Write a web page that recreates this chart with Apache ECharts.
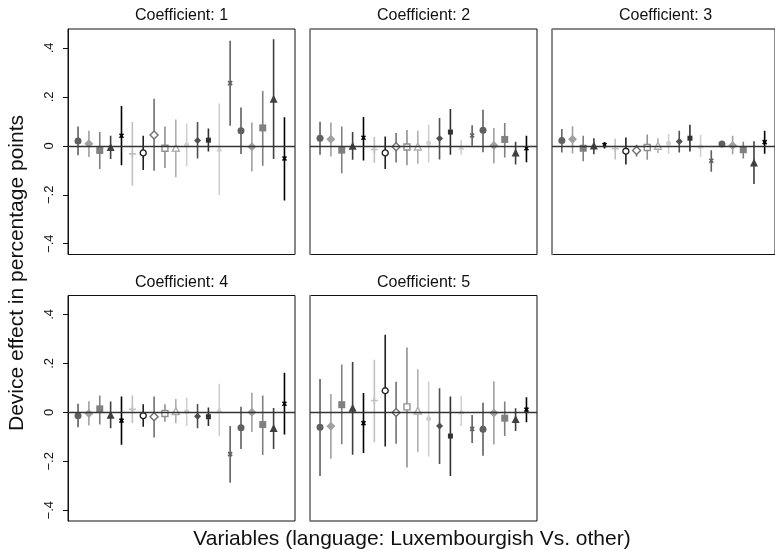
<!DOCTYPE html>
<html>
<head>
<meta charset="utf-8">
<script src="https://cdn.jsdelivr.net/npm/echarts@6/dist/echarts.min.js"></script>
<style>
  html, body { margin: 0; padding: 0; background: #fff; }
  #chart { width: 775px; height: 550px; }
</style>
</head>
<body>
<div id="chart"></div>
<script>
// Position of each variable along the horizontal axis of every panel
const positions = [1, 2, 3, 4, 5, 6, 7, 8, 9, 10, 11, 12, 13, 14, 15, 16, 17, 18, 19, 20];

// Coefficient 1: point estimates and 95% interval bounds
const est1 = [0.020, 0.008, -0.019, -0.005, 0.041, -0.033, -0.029, 0.044, -0.010, -0.008, 0.003, 0.022, 0.023, -0.011, 0.256, 0.061, -0.004, 0.073, 0.192, -0.052];
const lo1  = [-0.039, -0.046, -0.095, -0.054, -0.079, -0.162, -0.099, -0.102, -0.091, -0.128, -0.084, -0.052, -0.023, -0.201, 0.082, -0.034, -0.105, -0.082, -0.054, -0.223];
const hi1  = [0.079, 0.061, 0.056, 0.041, 0.163, 0.097, 0.041, 0.192, 0.079, 0.107, 0.091, 0.097, 0.071, 0.173, 0.429, 0.156, 0.095, 0.224, 0.435, 0.117];

// Coefficient 2
const est2 = [0.031, 0.027, -0.018, 0.000, 0.033, -0.015, -0.029, -0.004, -0.005, -0.003, 0.011, 0.030, 0.056, -0.004, 0.042, 0.063, 0.001, 0.026, -0.027, -0.010];
const lo2  = [-0.037, -0.044, -0.112, -0.057, -0.060, -0.069, -0.095, -0.068, -0.079, -0.073, -0.069, -0.056, -0.037, -0.037, 0.000, -0.026, -0.072, -0.048, -0.076, -0.067];
const hi2  = [0.098, 0.095, 0.079, 0.056, 0.118, 0.037, 0.038, 0.052, 0.065, 0.061, 0.086, 0.114, 0.150, 0.024, 0.084, 0.147, 0.073, 0.093, 0.016, 0.041];

// Coefficient 3
const est3 = [0.022, 0.027, -0.010, 0.001, 0.003, -0.012, -0.022, -0.019, -0.007, 0.000, 0.010, 0.018, 0.031, 0.001, -0.061, 0.007, 0.001, -0.016, -0.068, 0.015];
const lo3  = [-0.027, -0.031, -0.063, -0.035, -0.011, -0.056, -0.076, -0.044, -0.057, -0.029, -0.033, -0.027, -0.023, -0.045, -0.106, -0.005, -0.035, -0.052, -0.156, -0.033];
const hi3  = [0.069, 0.080, 0.041, 0.031, 0.015, 0.029, 0.034, 0.004, 0.046, 0.031, 0.048, 0.061, 0.086, 0.045, -0.018, 0.018, 0.041, 0.016, 0.019, 0.061];

// Coefficient 4
const est4 = [-0.014, -0.005, 0.014, -0.010, -0.034, 0.012, -0.014, -0.018, -0.005, 0.005, 0.003, -0.016, -0.018, 0.011, -0.171, -0.063, 0.000, -0.050, -0.064, 0.035];
const lo4  = [-0.061, -0.054, -0.050, -0.065, -0.133, -0.044, -0.059, -0.103, -0.039, -0.045, -0.056, -0.065, -0.056, -0.098, -0.288, -0.150, -0.080, -0.174, -0.150, -0.091];
const hi4  = [0.035, 0.045, 0.069, 0.044, 0.064, 0.069, 0.033, 0.064, 0.033, 0.054, 0.059, 0.034, 0.020, 0.117, -0.056, 0.023, 0.080, 0.069, 0.018, 0.161];

// Coefficient 5
const est5 = [-0.061, -0.057, 0.031, 0.019, -0.044, 0.048, 0.088, -0.001, 0.022, 0.007, -0.026, -0.056, -0.097, 0.004, -0.068, -0.069, -0.003, -0.024, -0.027, 0.011];
const lo5  = [-0.260, -0.190, -0.131, -0.173, -0.166, -0.122, -0.140, -0.129, -0.226, -0.163, -0.181, -0.211, -0.260, -0.056, -0.125, -0.178, -0.132, -0.097, -0.076, -0.041];
const hi5  = [0.136, 0.075, 0.195, 0.205, 0.079, 0.215, 0.317, 0.125, 0.265, 0.176, 0.127, 0.098, 0.064, 0.068, -0.011, 0.039, 0.127, 0.044, 0.016, 0.061];

// Panel titles and y tick labels
const panelTitles = ['Coefficient: 1', 'Coefficient: 2', 'Coefficient: 3', 'Coefficient: 4', 'Coefficient: 5'];
const yTickValues = [-0.4, -0.2, 0, 0.2, 0.4];
const yTickLabels = ['\u2212.4', '\u2212.2', '0', '.2', '.4'];
const yTitle = 'Device effect in percentage points';
const xTitle = 'Variables (language: Luxembourgish Vs. other)';

// Monochrome marker styles, one per variable (cycle of 15 then repeat)
const X_PATH = 'path://M0,0L10,10M10,0L0,10';
const PLUS_PATH = 'path://M5,0L5,10M0,5L10,5';
const baseStyles = [
  { symbol: 'circle',   size: 7, color: '#606060', kind: 'fill' },
  { symbol: 'diamond',  size: 9, color: '#a0a0a0', kind: 'fill' },
  { symbol: 'rect',     size: 7, color: '#808080', kind: 'fill' },
  { symbol: 'triangle', size: 8, color: '#404040', kind: 'fill' },
  { symbol: X_PATH,     size: 4, color: '#000000', kind: 'stroke' },
  { symbol: PLUS_PATH,  size: 7, color: '#c0c0c0', kind: 'stroke' },
  { symbol: 'circle',   size: 6, color: '#202020', kind: 'hollow' },
  { symbol: 'diamond',  size: 8, color: '#707070', kind: 'hollow' },
  { symbol: 'rect',     size: 6, color: '#909090', kind: 'hollow' },
  { symbol: 'triangle', size: 7, color: '#b0b0b0', kind: 'hollow' },
  { symbol: 'circle',   size: 5, color: '#d0d0d0', kind: 'fill' },
  { symbol: 'diamond',  size: 7, color: '#505050', kind: 'fill' },
  { symbol: 'rect',     size: 5, color: '#303030', kind: 'fill' },
  { symbol: 'triangle', size: 6, color: '#d0d0d0', kind: 'fill' },
  { symbol: X_PATH,     size: 4, color: '#606060', kind: 'stroke' }
];
const styleFor = j => baseStyles[j % baseStyles.length];

const panels = [
  { est: est1, lo: lo1, hi: hi1 },
  { est: est2, lo: lo2, hi: hi2 },
  { est: est3, lo: lo3, hi: hi3 },
  { est: est4, lo: lo4, hi: hi4 },
  { est: est5, lo: lo5, hi: hi5 }
];

// Panel layout (3 columns, 2 rows)
const colLeft = [68, 310, 552];
const rowTop = [29, 295.5];
const panelW = 227, panelH = 225.5;
const FONT = 'Liberation Sans, Arial, sans-serif';

const grids = [], xAxes = [], yAxes = [], series = [], graphics = [];

panels.forEach((p, i) => {
  const col = i % 3, row = Math.floor(i / 3);
  const left = colLeft[col], top = rowTop[row];
  const hasAxis = col === 0;

  grids.push({
    left: left, top: top, width: panelW, height: panelH,
    show: true, borderColor: '#111', borderWidth: 1, backgroundColor: '#fff'
  });

  xAxes.push({
    gridIndex: i, type: 'value', min: 0.077, max: 20.97,
    show: false
  });

  yAxes.push({
    gridIndex: i, type: 'value', min: -0.444, max: 0.477,
    axisLine: { show: true, onZero: false, lineStyle: { color: hasAxis ? '#111' : '#8c8c8c', width: hasAxis ? 1 : 1.6 } },
    axisTick: { show: hasAxis, length: 5, lineStyle: { color: '#111', width: 1 }, customValues: yTickValues },
    axisLabel: {
      show: hasAxis, rotate: 90, margin: 12, fontSize: 13, color: '#111', fontFamily: FONT,
      customValues: yTickValues,
      formatter: v => {
        const k = yTickValues.findIndex(t => Math.abs(t - v) < 1e-9);
        return k >= 0 ? yTickLabels[k] : '';
      }
    },
    splitLine: { show: false }
  });

  // confidence interval spikes + zero reference line
  series.push({
    type: 'custom',
    xAxisIndex: i, yAxisIndex: i,
    clip: true, z: 2, silent: true,
    encode: { x: 0, y: [1, 2] },
    data: positions.map((x, j) => [x, p.lo[j], p.hi[j], j]),
    renderItem: (params, api) => {
      const a = api.coord([api.value(0), api.value(1)]);
      const b = api.coord([api.value(0), api.value(2)]);
      const st = styleFor(api.value(3));
      return {
        type: 'line',
        shape: { x1: a[0], y1: a[1], x2: b[0], y2: b[1] },
        style: { stroke: st.color, lineWidth: 1.6 }
      };
    },
    markLine: {
      silent: true, symbol: 'none', label: { show: false },
      lineStyle: { color: '#333', width: 1.3, type: 'solid' },
      data: [{ yAxis: 0 }],
      animation: false
    }
  });

  // point estimates
  series.push({
    type: 'scatter',
    xAxisIndex: i, yAxisIndex: i, z: 3, silent: true,
    data: positions.map((x, j) => {
      const st = styleFor(j);
      let itemStyle;
      if (st.kind === 'fill') itemStyle = { color: st.color, opacity: 1 };
      else if (st.kind === 'hollow') itemStyle = { color: '#fff', borderColor: st.color, borderWidth: 1.4, opacity: 1 };
      else itemStyle = { color: st.color, borderColor: st.color, borderWidth: 1.6, opacity: 1 };
      return { value: [x, p.est[j]], symbol: st.symbol, symbolSize: st.size, itemStyle: itemStyle };
    })
  });

  graphics.push({
    type: 'text', x: left + panelW / 2, y: row === 0 ? 16 : 282.5,
    style: { text: panelTitles[i], fill: '#111', font: '16px ' + FONT, textAlign: 'center', textVerticalAlign: 'middle' }
  });
});

graphics.push({
  type: 'text', x: 412, y: 539,
  style: { text: xTitle, fill: '#111', font: '21px ' + FONT, textAlign: 'center', textVerticalAlign: 'middle' }
});
graphics.push({
  type: 'text', x: 17, y: 273, rotation: Math.PI / 2,
  style: { text: yTitle, fill: '#111', font: '21px ' + FONT, textAlign: 'center', textVerticalAlign: 'middle' }
});

const chart = echarts.init(document.getElementById('chart'), null, { renderer: 'canvas' });
chart.setOption({
  animation: false,
  backgroundColor: '#fff',
  grid: grids,
  xAxis: xAxes,
  yAxis: yAxes,
  series: series,
  graphic: graphics
});
</script>
</body>
</html>
